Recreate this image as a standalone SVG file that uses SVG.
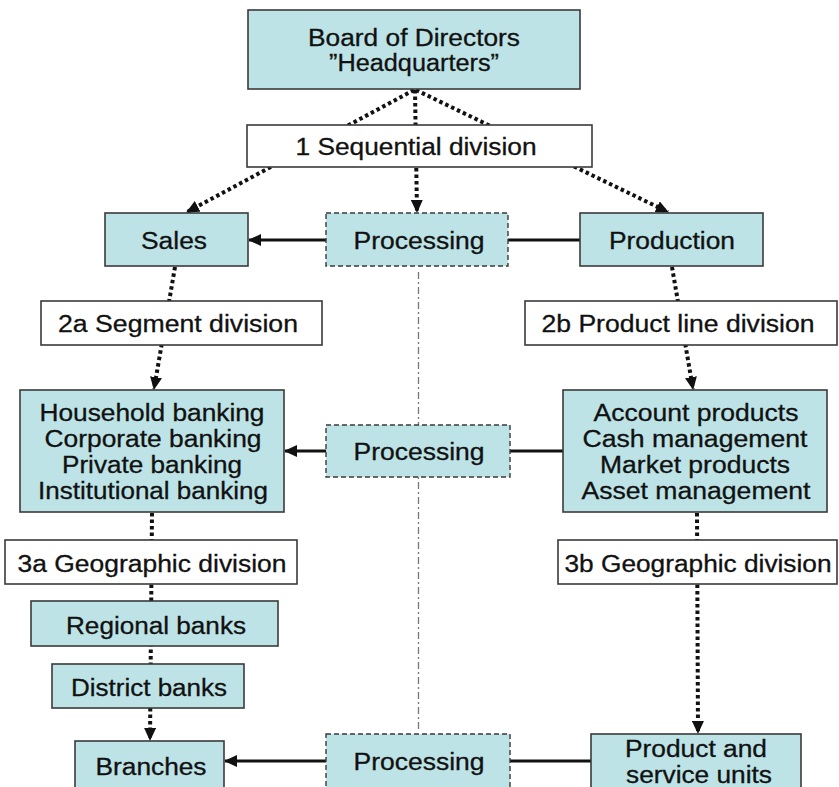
<svg xmlns="http://www.w3.org/2000/svg" width="839" height="787" viewBox="0 0 839 787">
<style>
  .box { fill: #bde3e6; stroke: #3a3a3a; stroke-width: 1.6; }
  .wbox { fill: #ffffff; stroke: #3a3a3a; stroke-width: 1.6; }
  .pbox { fill: #bde3e6; stroke: #3a3a3a; stroke-width: 1.4; stroke-dasharray: 5 3; }
  .t { font-family: "Liberation Sans", Arial, sans-serif; font-size: 23.5px; fill: #111111; stroke: #111111; stroke-width: 0.3; text-anchor: middle; }
  .dot { fill: none; stroke: #111111; stroke-width: 4; stroke-dasharray: 3.5 3; }
  .solid { fill: none; stroke: #111111; stroke-width: 3; }
  .axis { fill: none; stroke: #777777; stroke-width: 1.3; stroke-dasharray: 7 3 2 3; }
</style>
<defs>
  <marker id="ah" markerUnits="userSpaceOnUse" markerWidth="13" markerHeight="12" refX="12" refY="6" orient="auto">
    <path d="M0,0 L13,6 L0,12 Z" fill="#111111"/>
  </marker>
</defs>
<rect width="839" height="787" fill="#ffffff"/>

<g id="connectors">
  <line class="axis" x1="418.5" y1="272" x2="418.5" y2="730"/>
  <line class="dot" x1="414" y1="90" x2="187" y2="212" marker-end="url(#ah)"/>
  <line class="dot" x1="415" y1="90" x2="417" y2="212" marker-end="url(#ah)"/>
  <line class="dot" x1="416" y1="90" x2="668" y2="212" marker-end="url(#ah)"/>
  <line class="solid" x1="580" y1="240" x2="249" y2="240" marker-end="url(#ah)"/>
  <line class="dot" x1="175" y1="267" x2="154" y2="389" marker-end="url(#ah)"/>
  <line class="dot" x1="672" y1="267" x2="693" y2="389" marker-end="url(#ah)"/>
  <line class="solid" x1="563" y1="451" x2="285" y2="451" marker-end="url(#ah)"/>
  <line class="dot" x1="152" y1="513" x2="150" y2="740" marker-end="url(#ah)"/>
  <line class="dot" x1="697" y1="513" x2="698" y2="733" marker-end="url(#ah)"/>
  <line class="solid" x1="591" y1="761" x2="225" y2="761" marker-end="url(#ah)"/>
</g>

<g id="board">
  <rect class="box" x="248" y="10" width="332" height="79"/>
  <text class="t" x="414" y="46" textLength="212" lengthAdjust="spacingAndGlyphs">Board of Directors</text>
  <text class="t" x="414" y="71" textLength="170" lengthAdjust="spacingAndGlyphs">”Headquarters”</text>
</g>
<g id="seq">
  <rect class="wbox" x="247" y="125" width="345" height="42"/>
  <text class="t" x="416" y="155" textLength="241" lengthAdjust="spacingAndGlyphs">1 Sequential division</text>
</g>
<g id="sales">
  <rect class="box" x="105" y="213" width="143" height="53"/>
  <text class="t" x="174" y="249" textLength="66" lengthAdjust="spacingAndGlyphs">Sales</text>
</g>
<g id="proc1">
  <rect class="pbox" x="326" y="213" width="182" height="53"/>
  <text class="t" x="419" y="249" textLength="131" lengthAdjust="spacingAndGlyphs">Processing</text>
</g>
<g id="production">
  <rect class="box" x="580" y="213" width="183" height="53"/>
  <text class="t" x="672" y="249" textLength="126" lengthAdjust="spacingAndGlyphs">Production</text>
</g>
<g id="seg">
  <rect class="wbox" x="41" y="301" width="281" height="44"/>
  <text class="t" x="178" y="332" textLength="240" lengthAdjust="spacingAndGlyphs">2a Segment division</text>
</g>
<g id="prodline">
  <rect class="wbox" x="525" y="301" width="312" height="44"/>
  <text class="t" x="678" y="332" textLength="273" lengthAdjust="spacingAndGlyphs">2b Product line division</text>
</g>
<g id="banking">
  <rect class="box" x="20" y="390" width="264" height="122"/>
  <text class="t" x="152" y="421" textLength="225" lengthAdjust="spacingAndGlyphs">Household banking</text>
  <text class="t" x="153" y="447" textLength="217" lengthAdjust="spacingAndGlyphs">Corporate banking</text>
  <text class="t" x="152" y="473" textLength="180" lengthAdjust="spacingAndGlyphs">Private banking</text>
  <text class="t" x="153" y="499" textLength="230" lengthAdjust="spacingAndGlyphs">Institutional banking</text>
</g>
<g id="proc2">
  <rect class="pbox" x="326" y="425" width="184" height="52"/>
  <text class="t" x="419" y="460" textLength="131" lengthAdjust="spacingAndGlyphs">Processing</text>
</g>
<g id="products">
  <rect class="box" x="563" y="390" width="264" height="122"/>
  <text class="t" x="696" y="421" textLength="205" lengthAdjust="spacingAndGlyphs">Account products</text>
  <text class="t" x="695" y="447" textLength="225" lengthAdjust="spacingAndGlyphs">Cash management</text>
  <text class="t" x="695" y="473" textLength="190" lengthAdjust="spacingAndGlyphs">Market products</text>
  <text class="t" x="696" y="499" textLength="229" lengthAdjust="spacingAndGlyphs">Asset management</text>
</g>
<g id="geo3a">
  <rect class="wbox" x="5" y="540" width="292" height="44"/>
  <text class="t" x="152" y="572" textLength="269" lengthAdjust="spacingAndGlyphs">3a Geographic division</text>
</g>
<g id="geo3b">
  <rect class="wbox" x="558" y="540" width="279" height="44"/>
  <text class="t" x="698" y="572" textLength="267" lengthAdjust="spacingAndGlyphs">3b Geographic division</text>
</g>
<g id="regional">
  <rect class="box" x="31" y="601" width="247" height="45"/>
  <text class="t" x="156" y="634" textLength="180" lengthAdjust="spacingAndGlyphs">Regional banks</text>
</g>
<g id="district">
  <rect class="box" x="52" y="664" width="192" height="44"/>
  <text class="t" x="149" y="696" textLength="156" lengthAdjust="spacingAndGlyphs">District banks</text>
</g>
<g id="branches">
  <rect class="box" x="75" y="741" width="149" height="60"/>
  <text class="t" x="151" y="775" textLength="111" lengthAdjust="spacingAndGlyphs">Branches</text>
</g>
<g id="proc3">
  <rect class="pbox" x="326" y="734" width="184" height="66"/>
  <text class="t" x="419" y="770" textLength="131" lengthAdjust="spacingAndGlyphs">Processing</text>
</g>
<g id="units">
  <rect class="box" x="591" y="734" width="210" height="66"/>
  <text class="t" x="696" y="757" textLength="142" lengthAdjust="spacingAndGlyphs">Product and</text>
  <text class="t" x="699" y="783" textLength="146" lengthAdjust="spacingAndGlyphs">service units</text>
</g>
</svg>
